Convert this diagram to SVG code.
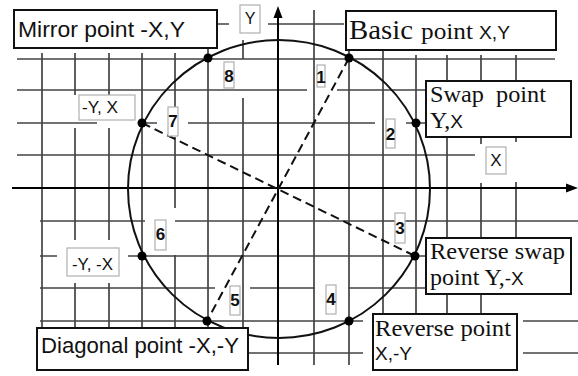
<svg xmlns="http://www.w3.org/2000/svg" width="578" height="376" viewBox="0 0 578 376">
<style>
.grid{stroke:#444;stroke-width:1.7;fill:none}
.axis{stroke:#000;stroke-width:2;fill:none}
.box{fill:#fff;stroke:#111;stroke-width:2}
.sbox{fill:#fff;stroke:#b0b0b0;stroke-width:1.2}
.sans{font-family:"Liberation Sans",Arial,sans-serif;fill:#111}
.serif{font-family:"Liberation Serif","Times New Roman",serif;fill:#111}
.num{font-family:"Liberation Sans",Arial,sans-serif;font-weight:bold;font-size:17px;fill:#111;text-anchor:middle}
.dot{fill:#000}
.dash{stroke:#111;stroke-width:2;stroke-dasharray:9 5;fill:none}
</style>
<rect width="578" height="376" fill="#fff"/>
<g id="grid" class="grid">
<path d="M217,24H229M268,24H344M17,59H555M17,90H307M337,90H426M17,123H97M145,123H157M188,123H375M406,123H426M17,155H475M40,221H145M175,221H578M40,256H57M128,256H426M40,288H215M250,288H315M348,288H426M40,321H363M523,321H578M248,353H363M523,353H578"/>
<path d="M42,53V328M75,53V95M75,128V240M75,283V328M109,53V95M109,128V240M109,283V328M142,53V328M175,53V107M175,137V208M175,255V328M208,48V328M243,40V59M243,98V328M314,10V365M349,50V365M383,50V314M416,55V314M447,55V81M447,137V238M447,294V314M481,55V81M481,137V144M481,183V238M481,294V314M516,55V81M516,137V142M516,182V238"/>
</g>
<g id="axes">
<path class="axis" d="M278,365V16M12,188H568"/>
<polygon points="278,6 273.5,18 282.5,18" fill="#000"/>
<polygon points="578,188 566,183.5 566,192.5" fill="#000"/>
</g>
<ellipse id="circle" cx="279" cy="189" rx="151" ry="149" fill="none" stroke="#111" stroke-width="2"/>
<g id="connectors">
<line class="dash" x1="349" y1="58" x2="207" y2="321"/>
<line class="dash" x1="142" y1="123" x2="415" y2="256"/>
</g>
<g id="points">
<circle class="dot" cx="349" cy="58" r="4.5"/>
<circle class="dot" cx="416" cy="123" r="4.5"/>
<circle class="dot" cx="142" cy="123" r="4.5"/>
<circle class="dot" cx="208" cy="58" r="4.5"/>
<circle class="dot" cx="142" cy="256" r="4.5"/>
<circle class="dot" cx="207" cy="321" r="4.5"/>
<circle class="dot" cx="415" cy="256" r="4.5"/>
<circle class="dot" cx="349" cy="321" r="4.5"/>
</g>
<g id="mirror">
<rect class="box" x="14" y="10" width="203" height="38" stroke-width="2.5"/>
<text class="sans" x="18" y="37" font-size="22" textLength="167" lengthAdjust="spacingAndGlyphs">Mirror point -X,Y</text>
</g>
<g id="basic">
<rect class="box" x="346" y="11" width="210" height="39"/>
<text class="serif" x="349" y="39" font-size="27" textLength="64" lengthAdjust="spacingAndGlyphs">Basic</text>
<text class="serif" x="421" y="39" font-size="24" textLength="52" lengthAdjust="spacingAndGlyphs">point</text>
<text class="sans" x="479" y="39" font-size="19" textLength="31" lengthAdjust="spacingAndGlyphs">X,Y</text>
</g>
<g id="swap">
<rect class="box" x="426" y="81" width="145" height="56"/>
<text class="serif" x="430" y="102" font-size="24" textLength="116" lengthAdjust="spacingAndGlyphs" xml:space="preserve">Swap  point</text>
<text class="serif" x="430" y="128" font-size="24">Y,<tspan class="sans" font-size="19">X</tspan></text>
</g>
<g id="revswap">
<rect class="box" x="426" y="238" width="145" height="56"/>
<text class="serif" x="430" y="259" font-size="24" textLength="135" lengthAdjust="spacingAndGlyphs">Reverse swap</text>
<text class="serif" x="430" y="285" font-size="24">point Y,<tspan class="sans" font-size="19">-X</tspan></text>
</g>
<g id="reverse">
<rect class="box" x="373" y="314" width="144" height="56"/>
<text class="serif" x="375" y="336" font-size="24" textLength="136" lengthAdjust="spacingAndGlyphs">Reverse point</text>
<text class="sans" x="375" y="360" font-size="19">X,-Y</text>
</g>
<g id="diagonal">
<rect class="box" x="37" y="328" width="211" height="42" stroke-width="2.5"/>
<text class="sans" x="41" y="353" font-size="22" textLength="198" lengthAdjust="spacingAndGlyphs">Diagonal point -X,-Y</text>
</g>
<g id="ylabel">
<rect class="sbox" x="240" y="5" width="20" height="28"/>
<text class="sans" x="250" y="24" font-size="16" text-anchor="middle">Y</text>
</g>
<g id="xlabel">
<rect class="sbox" x="486" y="147" width="20" height="27"/>
<text class="sans" x="496" y="166" font-size="17" text-anchor="middle">X</text>
</g>
<g id="negyx">
<rect class="sbox" x="79" y="95" width="56" height="25"/>
<text class="sans" x="82" y="113" font-size="17" textLength="36" lengthAdjust="spacingAndGlyphs">-Y, X</text>
</g>
<g id="negynegx">
<rect class="sbox" x="67" y="248" width="52" height="28"/>
<text class="sans" x="72" y="270" font-size="17" textLength="41" lengthAdjust="spacingAndGlyphs">-Y, -X</text>
</g>
<g id="n1"><rect class="sbox" x="317" y="65" width="8" height="22"/><text class="num" x="321" y="83">1</text></g>
<g id="n2"><rect class="sbox" x="386" y="119" width="9" height="29"/><text class="num" x="390.5" y="140">2</text></g>
<g id="n3"><rect class="sbox" x="395" y="213" width="10" height="30"/><text class="num" x="400" y="234">3</text></g>
<g id="n4"><rect class="sbox" x="326" y="285" width="10" height="29"/><text class="num" x="331" y="305">4</text></g>
<g id="n5"><rect class="sbox" x="230" y="286" width="10" height="29"/><text class="num" x="235" y="306">5</text></g>
<g id="n6"><rect class="sbox" x="155" y="220" width="11" height="30"/><text class="num" x="160.5" y="240">6</text></g>
<g id="n7"><rect class="sbox" x="168" y="107" width="10" height="29"/><text class="num" x="173" y="127">7</text></g>
<g id="n8"><rect class="sbox" x="224" y="62" width="10" height="26"/><text class="num" x="229" y="82">8</text></g>
</svg>
